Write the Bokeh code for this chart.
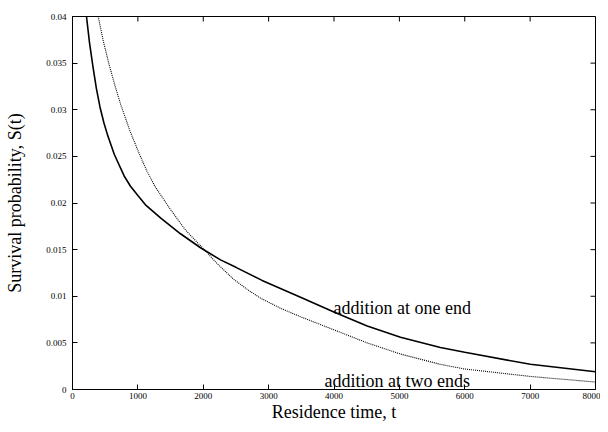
import math
from bokeh.plotting import figure
from bokeh.models import Range1d, FixedTicker, ColumnDataSource
from bokeh.embed import file_html
from bokeh.resources import INLINE
from bokeh.core.properties import value

# Data
t_one = [214, 260, 311, 365, 420, 480, 540, 640, 790, 887, 1000, 1116, 1346,
         1652, 1958, 2264, 2500, 2900, 3488, 3998, 4508, 5017, 5627, 6000,
         7003, 8000]
s_one = [0.0400, 0.0372, 0.0347, 0.0323, 0.0303, 0.0286, 0.0272, 0.0252,
         0.0229, 0.0218, 0.0208, 0.0198, 0.0184, 0.0167, 0.0152, 0.0139,
         0.0131, 0.0117, 0.0099, 0.0083, 0.0068, 0.0056, 0.0045, 0.0040,
         0.0027, 0.0019]

t_two = [393, 470, 554, 645, 735, 880, 1020, 1140, 1269, 1499, 1728, 2014,
         2213, 2468, 2700, 2875, 3186, 3488, 3998, 4508, 5017, 5627, 6000,
         7003, 8000]
s_two = [0.0400, 0.0374, 0.0350, 0.0327, 0.0306, 0.0277, 0.0253, 0.0234,
         0.0217, 0.0193, 0.0171, 0.0150, 0.0135, 0.0118, 0.0106, 0.0098,
         0.0087, 0.0078, 0.0064, 0.0050, 0.0038, 0.0027, 0.0022, 0.0014,
         0.0008]

x_ticks = [0, 1000, 2000, 3000, 4000, 5000, 6000, 7000, 8000]
x_tick_labels = ["0", "1000", "2000", "3000", "4000", "5000", "6000", "7000", "8000"]
y_ticks = [0, 0.005, 0.01, 0.015, 0.02, 0.025, 0.03, 0.035, 0.04]
y_tick_labels = ["0", "0.005", "0.01", "0.015", "0.02", "0.025", "0.03", "0.035", "0.04"]

label_text = ["addition at one end", "addition at two ends"]
label_t = [3992, 3855]
label_s = [0.0087, 0.0009]

FONT = "Liberation Serif"
X_MIN, X_MAX = 0, 8000
Y_MIN, Y_MAX = 0, 0.04

p = figure(width=600, height=424, output_backend="svg", toolbar_location=None,
           x_range=Range1d(X_MIN, X_MAX), y_range=Range1d(Y_MIN, Y_MAX),
           min_border_left=72, min_border_right=5, min_border_top=16,
           min_border_bottom=28)
p.xgrid.visible = False
p.ygrid.visible = False
p.outline_line_color = "black"
p.outline_line_width = 1
p.background_fill_color = "white"
p.border_fill_color = "white"

p.line(t_one, s_one, line_color="black", line_width=1.6)
p.line(t_two, s_two, line_color="black", line_width=1.1, line_dash="1 1")

src = ColumnDataSource(dict(x=label_t, y=label_s, text=label_text))
p.text(x="x", y="y", text="text", source=src, text_font=value(FONT),
       text_font_size="18px", text_color="black", text_baseline="alphabetic",
       text_align="left")

# mirrored inward ticks on the top and right edges
p.ray(x=x_ticks, y=[Y_MAX] * len(x_ticks), length=5, length_units="screen",
      angle=-math.pi / 2, line_color="black", line_width=1)
p.ray(x=[X_MAX] * len(y_ticks), y=y_ticks, length=5, length_units="screen",
      angle=math.pi, line_color="black", line_width=1)

def style_axis(ax, ticks, labels):
    ax.ticker = FixedTicker(ticks=ticks)
    ax.major_label_overrides = {tk: lb for tk, lb in zip(ticks, labels)}
    ax.major_tick_in = 5
    ax.major_tick_out = 0
    ax.minor_tick_in = 0
    ax.minor_tick_out = 0
    ax.axis_line_color = "black"
    ax.major_tick_line_color = "black"
    ax.major_label_text_font = FONT
    ax.major_label_text_color = "black"
    ax.major_label_text_font_size = "9px"
    ax.axis_label_text_font = FONT
    ax.axis_label_text_font_style = "normal"
    ax.axis_label_text_color = "black"

xa = p.xaxis[0]
style_axis(xa, x_ticks, x_tick_labels)
xa.axis_label = "Residence time, t"
xa.axis_label_text_font_size = "18px"
xa.major_label_standoff = 3
xa.axis_label_standoff = 0

ya = p.yaxis[0]
style_axis(ya, y_ticks, y_tick_labels)
ya.axis_label = "Survival probability, S(t)"
ya.axis_label_text_font_size = "18px"
ya.major_label_standoff = 6
ya.axis_label_standoff = 18

open("out.html", "w").write(file_html(p, INLINE))
